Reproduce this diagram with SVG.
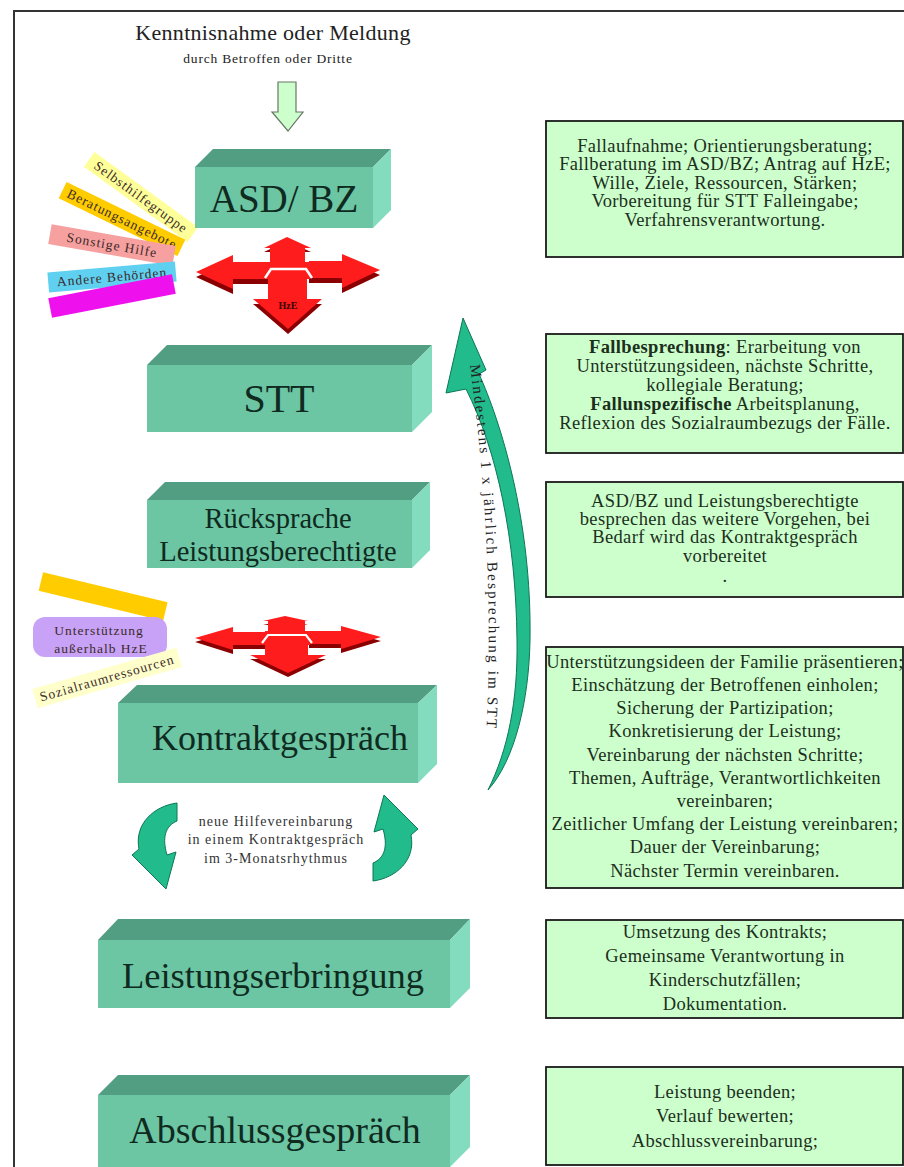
<svg xmlns="http://www.w3.org/2000/svg" xmlns:xlink="http://www.w3.org/1999/xlink" width="904" height="1167" viewBox="0 0 904 1167">
<defs>
<style>
text{font-family:"Liberation Serif","Times New Roman",serif}
.front{fill:#6cc5a3}
.top{fill:#529e83}
.side{fill:#84dcbe}
.bigt{fill:#0f2a1e;text-anchor:middle}
.box{fill:#ccffcc;stroke:#1a1a1a;stroke-width:1.8}
.bt{font-size:18.5px;letter-spacing:0.35px;text-anchor:middle;fill:#1c2e1c}
.tag{font-size:13.5px;letter-spacing:1px;text-anchor:middle;fill:#3a2a2a}
.red{fill:#ff1c1c}
.dred{fill:#8a0000}
.teal{fill:#22bb8c;stroke:#0c7656;stroke-width:1}
</style>
<path id="smallArrow" d="M177,803 C154,806 134,824 139,849 L132,855 L166,889 L176,852 L167,855 C162,838 165,826 177,821 Z"/>
<path id="arcText" d="M470,365 Q496,560 486,738"/>
</defs>
<rect width="904" height="1167" fill="#ffffff"/>
<rect x="14" y="11" width="900" height="1170" fill="none" stroke="#333333" stroke-width="2"/>

<g id="title">
<text x="273" y="40" font-size="22" fill="#222" text-anchor="middle" letter-spacing="0.3">Kenntnisnahme oder Meldung</text>
<text x="268" y="63" font-size="13.5" fill="#222" text-anchor="middle" letter-spacing="0.8">durch Betroffen oder Dritte</text>
</g>

<g id="connectors">
<polygon points="278,82 296,82 296,112 303,112 288,131 272,112 278,112" fill="#ccffcc" stroke="#667766" stroke-width="1.2"/>
<!-- red quad arrow A -->
<g transform="translate(0,5)">
<polygon class="dred" points="196,272 233,255 233,262 269,262 269,279 233,279 233,289"/>
<polygon class="dred" points="380,270 342,254 342,261 309,261 309,278 342,278 342,288"/>
<polygon class="dred" points="268,277 307,277 307,299 322,299 288,329 253,299 268,299"/>
</g>
<polygon class="dred" points="287,241 311,252 305,252 305,269 270,269 270,252 264,252"/>
<polygon class="red" points="196,272 233,255 233,262 269,262 269,279 233,279 233,289"/>
<polygon class="red" points="380,270 342,254 342,261 309,261 309,278 342,278 342,288"/>
<rect class="red" x="268" y="262" width="42" height="17"/>
<polygon class="red" points="287,237 311,248 305,248 305,265 270,265 270,248 264,248"/>
<polygon class="red" points="268,277 307,277 307,299 322,299 288,329 253,299 268,299"/>
<polyline points="265,278 271,269 306,269 312,278" fill="none" stroke="#ffffff" stroke-width="2.5"/>
<text x="288" y="309" font-size="10" font-weight="bold" fill="#3a0000" text-anchor="middle">HzE</text>
<!-- red quad arrow B -->
<g transform="translate(0,4)">
<polygon class="dred" points="195,638 233,627 233,632 266,632 266,645 233,645 233,650"/>
<polygon class="dred" points="381,637 341,626 341,631 309,631 309,644 341,644 341,649"/>
<polygon class="dred" points="265,645 308,645 308,655 326,655 288,673 250,655 265,655"/>
</g>
<polygon class="dred" points="285,620 308,625 305,625 305,637 268,637 268,625 263,625"/>
<polygon class="red" points="195,638 233,627 233,632 266,632 266,645 233,645 233,650"/>
<polygon class="red" points="381,637 341,626 341,631 309,631 309,644 341,644 341,649"/>
<rect class="red" x="265" y="631" width="45" height="14"/>
<polygon class="red" points="285,616 308,621 305,621 305,633 268,633 268,621 263,621"/>
<polygon class="red" points="265,645 308,645 308,655 326,655 288,673 250,655 265,655"/>
<polyline points="262,643 268,635 306,635 312,643" fill="none" stroke="#ffffff" stroke-width="2.2"/>
<!-- big curved arrow -->
<path class="teal" d="M463,318 L486,370 L479,374 C500,420 532,520 530,640 C529,700 515,760 488,790 C508,750 518,700 517,640 C516,540 497,450 466,389 L446,393 Z"/>
<text font-size="15" letter-spacing="2.2" fill="#222"><textPath xlink:href="#arcText" href="#arcText">Mindestens 1 x jährlich Besprechung im STT</textPath></text>
<!-- small cycle arrows -->
<use href="#smallArrow" xlink:href="#smallArrow" class="teal"/>
<use href="#smallArrow" xlink:href="#smallArrow" class="teal" transform="rotate(180 275 842)"/>
<text x="276" y="826" font-size="14" letter-spacing="1" fill="#333" text-anchor="middle">neue Hilfevereinbarung</text>
<text x="276" y="844" font-size="14" letter-spacing="1" fill="#333" text-anchor="middle">in einem Kontraktgespräch</text>
<text x="276" y="863" font-size="14" letter-spacing="1" fill="#333" text-anchor="middle">im 3-Monatsrhythmus</text>
</g>

<g id="tags-top">
<g transform="translate(141,197) rotate(36)"><rect x="-64" y="-9" width="128" height="18" fill="#ffff99"/><text class="tag" y="4.5">Selbsthilfegruppe</text></g>
<g transform="translate(122,219) rotate(26)"><rect x="-66" y="-9" width="132" height="18" fill="#ffcc00"/><text class="tag" y="4.5">Beratungsangebote</text></g>
<g transform="translate(112,245) rotate(10)"><rect x="-63" y="-10" width="126" height="20" fill="#f6a0a0"/><text class="tag" y="4.5">Sonstige Hilfe</text></g>
<g transform="translate(112,277) rotate(-5)"><rect x="-64" y="-10" width="128" height="20" fill="#5fd0f0"/><text class="tag" y="4.5">Andere Behörden</text></g>
<g transform="translate(112,296) rotate(-11)"><rect x="-63" y="-10" width="126" height="20" fill="#ee11ee"/></g>
</g>

<g id="tags-mid">
<g transform="translate(103,597) rotate(13.5)"><rect x="-64" y="-10" width="128" height="19" fill="#ffcc00"/></g>
<rect x="33" y="617" width="134" height="40" rx="12" fill="#c8a2f6"/>
<text class="tag" x="99" y="635">Unterstützung</text>
<text class="tag" x="101" y="653">außerhalb HzE</text>
<g transform="translate(107,678) rotate(-16)"><rect x="-75" y="-10" width="150" height="20" fill="#ffffcc"/><text class="tag" y="4.5">Sozialraumressourcen</text></g>
</g>

<g id="asd">
<polygon class="top" points="195,167 213,149 391,149 373,167"/>
<polygon class="side" points="373,167 391,149 391,210 373,228"/>
<rect class="front" x="195" y="167" width="178" height="61"/>
<text class="bigt" x="284" y="212" font-size="39">ASD/ BZ</text>
</g>
<g id="stt">
<polygon class="top" points="147,365 167,345 432,345 412,365"/>
<polygon class="side" points="412,365 432,345 432,412 412,432"/>
<rect class="front" x="147" y="365" width="265" height="67"/>
<text class="bigt" x="279" y="412" font-size="40">STT</text>
</g>
<g id="ruecksprache">
<polygon class="top" points="147,500 165,482 430,482 412,500"/>
<polygon class="side" points="412,500 430,482 430,550 412,568"/>
<rect class="front" x="147" y="500" width="265" height="68"/>
<text class="bigt" x="278" y="528" font-size="28.5">Rücksprache</text>
<text class="bigt" x="278" y="561" font-size="28.5">Leistungsberechtigte</text>
</g>
<g id="kontrakt">
<polygon class="top" points="118,703 137,685 437,685 418,703"/>
<polygon class="side" points="418,703 437,685 437,764 418,783"/>
<rect class="front" x="118" y="703" width="300" height="80"/>
<text class="bigt" x="280" y="750" font-size="36">Kontraktgespräch</text>
</g>
<g id="leistung">
<polygon class="top" points="98,940 118,919 470,919 450,940"/>
<polygon class="side" points="450,940 470,919 470,988 450,1008"/>
<rect class="front" x="98" y="940" width="352" height="68"/>
<text class="bigt" x="273" y="988" font-size="36.5">Leistungserbringung</text>
</g>
<g id="abschluss">
<polygon class="top" points="98,1095 118,1075 470,1075 450,1095"/>
<polygon class="side" points="450,1095 470,1075 470,1147 450,1167"/>
<rect class="front" x="98" y="1095" width="352" height="72"/>
<text class="bigt" x="275" y="1143" font-size="38">Abschlussgespräch</text>
</g>

<g id="info1">
<rect class="box" x="546" y="121" width="357" height="136"/>
<text class="bt" x="725" y="152">Fallaufnahme; Orientierungsberatung;</text>
<text class="bt" x="725" y="170">Fallberatung im ASD/BZ; Antrag auf HzE;</text>
<text class="bt" x="725" y="189">Wille, Ziele, Ressourcen, Stärken;</text>
<text class="bt" x="725" y="207">Vorbereitung für STT Falleingabe;</text>
<text class="bt" x="725" y="226">Verfahrensverantwortung.</text>
</g>
<g id="info2">
<rect class="box" x="546" y="334" width="357" height="119"/>
<text class="bt" x="725" y="353"><tspan font-weight="bold">Fallbesprechung</tspan>: Erarbeitung von</text>
<text class="bt" x="725" y="372">Unterstützungsideen, nächste Schritte,</text>
<text class="bt" x="725" y="391">kollegiale Beratung;</text>
<text class="bt" x="725" y="410"><tspan font-weight="bold">Fallunspezifische</tspan> Arbeitsplanung,</text>
<text class="bt" x="725" y="429">Reflexion des Sozialraumbezugs der Fälle.</text>
</g>
<g id="info3">
<rect class="box" x="546" y="482" width="357" height="115"/>
<text class="bt" x="725" y="507">ASD/BZ und Leistungsberechtigte</text>
<text class="bt" x="725" y="525">besprechen das weitere  Vorgehen, bei</text>
<text class="bt" x="725" y="543">Bedarf wird das Kontraktgespräch</text>
<text class="bt" x="725" y="562">vorbereitet</text>
<text class="bt" x="725" y="582" font-size="10">.</text>
</g>
<g id="info4">
<rect class="box" x="546" y="647" width="357" height="241"/>
<text class="bt" x="725" y="668">Unterstützungsideen der Familie präsentieren;</text>
<text class="bt" x="725" y="691">Einschätzung der Betroffenen einholen;</text>
<text class="bt" x="725" y="714">Sicherung der Partizipation;</text>
<text class="bt" x="725" y="737">Konkretisierung der Leistung;</text>
<text class="bt" x="725" y="761">Vereinbarung der nächsten Schritte;</text>
<text class="bt" x="725" y="784">Themen, Aufträge, Verantwortlichkeiten</text>
<text class="bt" x="725" y="807">vereinbaren;</text>
<text class="bt" x="725" y="830">Zeitlicher Umfang der Leistung vereinbaren;</text>
<text class="bt" x="725" y="853">Dauer der Vereinbarung;</text>
<text class="bt" x="725" y="877">Nächster Termin vereinbaren.</text>
</g>
<g id="info5">
<rect class="box" x="546" y="920" width="357" height="98"/>
<text class="bt" x="725" y="938">Umsetzung des Kontrakts;</text>
<text class="bt" x="725" y="962">Gemeinsame Verantwortung in</text>
<text class="bt" x="725" y="986">Kinderschutzfällen;</text>
<text class="bt" x="725" y="1010">Dokumentation.</text>
</g>
<g id="info6">
<rect class="box" x="546" y="1067" width="357" height="98"/>
<text class="bt" x="725" y="1098">Leistung beenden;</text>
<text class="bt" x="725" y="1122">Verlauf bewerten;</text>
<text class="bt" x="725" y="1147">Abschlussvereinbarung;</text>
</g>
</svg>
